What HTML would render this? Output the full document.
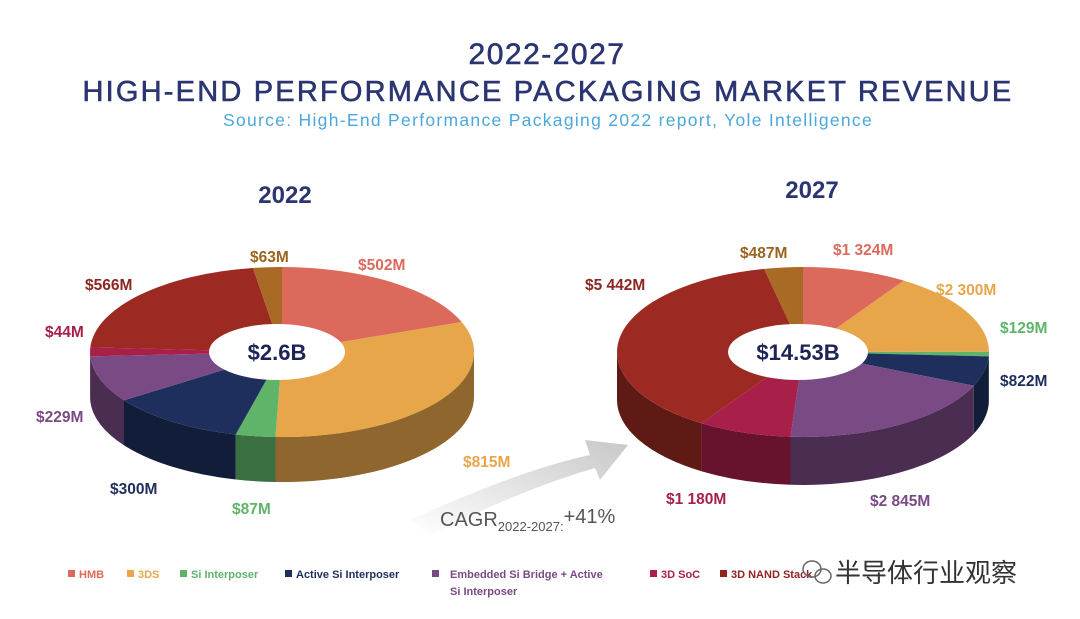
<!DOCTYPE html>
<html><head><meta charset="utf-8"><style>
body{margin:0;width:1080px;height:619px;background:#fff;overflow:hidden;font-family:"Liberation Sans","Noto Sans CJK SC",sans-serif}
svg{position:absolute;left:0;top:0}
</style></head><body>
<svg id="s" width="1080" height="619" viewBox="0 0 1080 619" xmlns="http://www.w3.org/2000/svg">
<defs>
<linearGradient id="arr" x1="0" y1="1" x2="1" y2="0"><stop offset="0" stop-color="#fff"/><stop offset="1" stop-color="#c8c8c8"/></linearGradient>
</defs>
<text x="547" y="64" text-anchor="middle" font-size="30" fill="#2b3571" stroke="#2b3571" stroke-width="0.6" letter-spacing="1.5">2022-2027</text>
<text x="548" y="101" text-anchor="middle" font-size="29" fill="#2b3571" stroke="#2b3571" stroke-width="0.6" letter-spacing="2.2">HIGH-END PERFORMANCE PACKAGING MARKET REVENUE</text>
<text x="548" y="126" text-anchor="middle" font-size="17.5" fill="#4aa8dc" letter-spacing="1.3">Source: High-End Performance Packaging 2022 report, Yole Intelligence</text>
<text x="285" y="203" text-anchor="middle" font-size="24" font-weight="bold" fill="#2b3571">2022</text>
<text x="812" y="198" text-anchor="middle" font-size="24" font-weight="bold" fill="#2b3571">2027</text>
<path d="M410 520 Q520 470 590 455 L585 440 L628 445 L600 480 L595 468 Q520 490 430 535 Z" fill="url(#arr)"/>
<g id="pies"></g>
<text x="440" y="526" font-size="20" fill="#555">CAGR<tspan font-size="13" dy="5">2022-2027:</tspan><tspan dy="-8" font-size="20">+41%</tspan></text>
<g font-size="15.5" font-weight="bold">
<text x="250" y="262" fill="#9a6420">$63M</text>
<text x="358" y="270" fill="#dc6a5c">$502M</text>
<text x="85" y="290" fill="#8e2520">$566M</text>
<text x="45" y="337" fill="#a8204a">$44M</text>
<text x="36" y="422" fill="#7a4a85">$229M</text>
<text x="463" y="467" fill="#e8a64a">$815M</text>
<text x="110" y="494" fill="#1e2f5e">$300M</text>
<text x="232" y="514" fill="#5fb46a">$87M</text>
<text x="740" y="258" fill="#9a6420">$487M</text>
<text x="833" y="255" fill="#dc6a5c">$1 324M</text>
<text x="585" y="290" fill="#8e2520">$5 442M</text>
<text x="936" y="295" fill="#e8a64a">$2 300M</text>
<text x="1000" y="333" fill="#5fb46a">$129M</text>
<text x="1000" y="386" fill="#1e2f5e">$822M</text>
<text x="666" y="504" fill="#a8204a">$1 180M</text>
<text x="870" y="506" fill="#7a4a85">$2 845M</text>
</g>
<g font-size="11" font-weight="bold">
<rect x="68" y="570" width="7" height="7" fill="#dc6a5c"/><text x="79" y="578" fill="#dc6a5c">HMB</text>
<rect x="127" y="570" width="7" height="7" fill="#e8a64a"/><text x="138" y="578" fill="#e8a64a">3DS</text>
<rect x="180" y="570" width="7" height="7" fill="#5fb46a"/><text x="191" y="578" fill="#5fb46a">Si Interposer</text>
<rect x="285" y="570" width="7" height="7" fill="#1e2f5e"/><text x="296" y="578" fill="#1e2f5e">Active Si Interposer</text>
<rect x="432" y="570" width="7" height="7" fill="#7a4a85"/><text x="450" y="578" fill="#7a4a85">Embedded Si Bridge + Active</text>
<text x="450" y="595" fill="#7a4a85">Si Interposer</text>
<rect x="650" y="570" width="7" height="7" fill="#a8204a"/><text x="661" y="578" fill="#a8204a">3D SoC</text>
<rect x="720" y="570" width="7" height="7" fill="#8e2520"/><text x="731" y="578" fill="#8e2520">3D NAND Stack</text>
</g>
<g fill="none" stroke="#666" stroke-width="1.5"><ellipse cx="812" cy="569" rx="9" ry="8"/><ellipse cx="823" cy="576" rx="8" ry="7"/></g>
<text x="835" y="582" font-size="26" fill="#333">半导体行业观察</text>
</svg>
<script>
function dk(c,f){var n=parseInt(c.slice(1),16),r=(n>>16)*f,g=((n>>8)&255)*f,b=(n&255)*f;return"rgb("+(r|0)+","+(g|0)+","+(b|0)+")";}
var cols=["#dc6a5c","#e8a64a","#5fb46a","#1e2f5e","#7a4a85","#a8204a","#9c2a22","#a86a24"];
function pie(cx,cy,rx,ry,d,vals,hrx,hry,lab){
 var g=document.getElementById("pies"),tot=vals.reduce(function(a,b){return a+b},0),a=0,h="";
 function P(t,dy){return (cx+rx*Math.sin(t)).toFixed(1)+","+(cy-ry*Math.cos(t)+dy).toFixed(1);}
 var sl=[];vals.forEach(function(v,i){var b=a+v/tot*2*Math.PI;sl.push([a,b,cols[i]]);a=b;});
 sl.forEach(function(s){var a1=Math.max(s[0],Math.PI/2),a2=Math.min(s[1],1.5*Math.PI);if(a2<=a1)return;
  h+='<path d="M'+P(a1,0)+' A'+rx+','+ry+' 0 0 1 '+P(a2,0)+' L'+P(a2,d)+' A'+rx+','+ry+' 0 0 0 '+P(a1,d)+' Z" fill="'+dk(s[2],0.62)+'"/>';});
 sl.forEach(function(s){var lg=(s[1]-s[0])>Math.PI?1:0;
  h+='<path d="M'+cx+','+cy+' L'+P(s[0],0)+' A'+rx+','+ry+' 0 '+lg+' 1 '+P(s[1],0)+' Z" fill="'+s[2]+'"/>';});
 h+='<ellipse cx="'+(cx-5)+'" cy="'+cy+'" rx="'+hrx+'" ry="'+hry+'" fill="#fff"/>';
 h+='<text x="'+(cx-5)+'" y="'+(cy+8)+'" text-anchor="middle" font-size="22" font-weight="bold" fill="#1e2455">'+lab+'</text>';
 g.insertAdjacentHTML("beforeend",h);
}
pie(282,352,192,85,45,[502,815,87,300,229,44,566,63],68,28,"$2.6B");
pie(803,352,186,85,48,[1324,2300,129,822,2845,1180,5442,487],70,28,"$14.53B");
</script>
</body></html>
